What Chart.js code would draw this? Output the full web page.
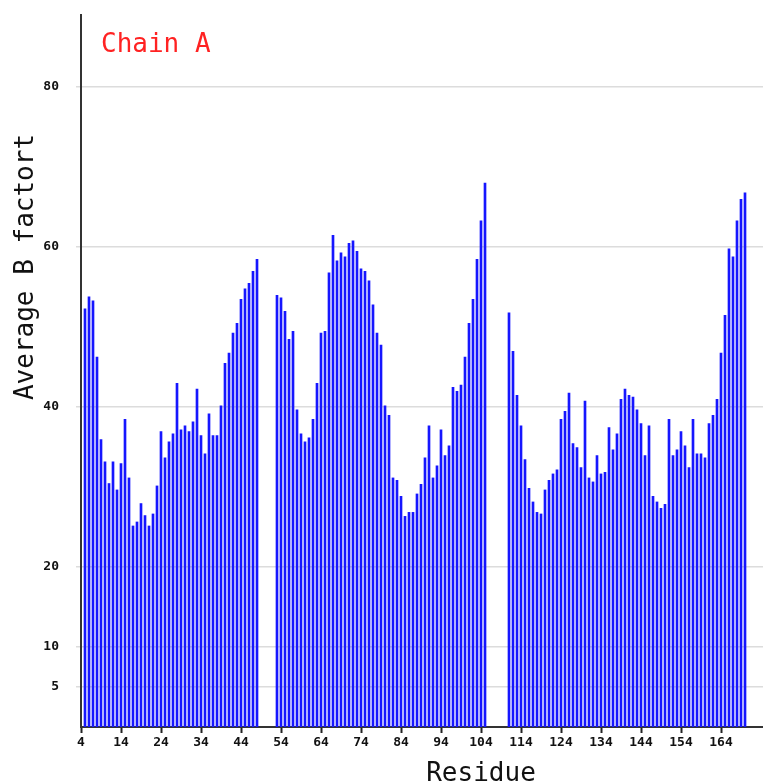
<!DOCTYPE html>
<html>
<head>
<meta charset="utf-8">
<script src="https://cdn.jsdelivr.net/npm/chart.js@4/dist/chart.umd.min.js"></script>
<style>
  html, body { margin: 0; padding: 0; background: #fff; }
  canvas { display: block; }
</style>
</head>
<body>
<canvas id="bChart" width="763" height="783"></canvas>
<script>
// Average B factor per residue, chain A (null = residue missing)
const firstResidue = 5
const bFactors = [
    52.2, 53.7, 53.2, 46.2, 35.9, 33.1, 30.4, 33.1, 29.6, 32.9,
    38.4, 31.1, 25.1, 25.6, 27.9, 26.4, 25.1, 26.6, 30.1, 36.9,
    33.6, 35.6, 36.6, 42.9, 37.1, 37.6, 36.9, 38.1, 42.2, 36.4,
    34.1, 39.1, 36.4, 36.4, 40.1, 45.4, 46.7, 49.2, 50.4, 53.4,
    54.7, 55.4, 56.9, 58.4, null, null, null, null, 53.9, 53.6,
    51.9, 48.4, 49.4, 39.6, 36.6, 35.6, 36.1, 38.4, 42.9, 49.2,
    49.4, 56.7, 61.4, 58.2, 59.2, 58.7, 60.4, 60.7, 59.4, 57.2,
    56.9, 55.7, 52.7, 49.2, 47.7, 40.1, 38.9, 31.1, 30.8, 28.8,
    26.3, 26.8, 26.8, 29.1, 30.3, 33.6, 37.6, 31.1, 32.6, 37.1,
    33.9, 35.1, 42.4, 41.9, 42.7, 46.2, 50.4, 53.4, 58.4, 63.2,
    67.9, null, null, null, null, null, 51.7, 46.9, 41.4, 37.6,
    33.4, 29.8, 28.1, 26.8, 26.6, 29.6, 30.8, 31.6, 32.1, 38.4,
    39.4, 41.7, 35.4, 34.9, 32.4, 40.7, 31.1, 30.6, 33.9, 31.6,
    31.8, 37.4, 34.6, 36.6, 40.9, 42.2, 41.4, 41.2, 39.6, 37.9,
    33.9, 37.6, 28.8, 28.1, 27.3, 27.8, 38.4, 33.9, 34.6, 36.9,
    35.1, 32.4, 38.4, 34.1, 34.1, 33.6, 37.9, 38.9, 40.9, 46.7,
    51.4, 59.7, 58.7, 63.2, 65.9, 66.7
]
const xTickValues = [4, 14, 24, 34, 44, 54, 64, 74, 84, 94, 104, 114, 124, 134, 144, 154, 164]
const yTickValues = [5, 10, 20, 40, 60, 80]
const chainLabel = "Chain A"
const xTitle = "Residue"
const yTitle = "Average B factort"

let points = []
bFactors.forEach((b, i) => {
    if (b !== null) points.push({ x: firstResidue + i, y: b })
})

const tickFont = { family: 'DejaVu Sans Mono', size: 13, weight: 'bold' }

// titles are placed where the original image has them, not centred on the axes
const titlesPlugin = {
    id: 'titles',
    afterDraw(chart) {
        const ctx = chart.ctx
        ctx.save()
        ctx.font = '26px "DejaVu Sans Mono"'
        ctx.textBaseline = 'alphabetic'
        ctx.textAlign = 'left'
        ctx.fillStyle = '#ff2222'
        ctx.fillText(chainLabel, 101, 52)
        ctx.fillStyle = '#111'
        ctx.textAlign = 'center'
        ctx.fillText(xTitle, 481, 781)
        ctx.translate(33, 267)
        ctx.rotate(-Math.PI / 2)
        ctx.fillText(yTitle, 0, 0)
        ctx.restore()
    }
}

new Chart(document.querySelector("#bChart"), {
    type: 'bar',
    data: {
        datasets: [{
            data: points,
            backgroundColor: '#1616ff',
            borderWidth: 0,
            barThickness: 2
        }]
    },
    options: {
        responsive: false,
        animation: false,
        devicePixelRatio: 1,
        layout: { padding: { top: 15, left: 0, right: 0, bottom: 0 } },
        plugins: {
            legend: { display: false },
            tooltip: { enabled: false }
        },
        scales: {
            x: {
                type: 'linear',
                min: 4,
                max: 174.5,
                offset: false,
                afterBuildTicks: scale => { scale.ticks = xTickValues.map(v => ({ value: v })) },
                afterFit: scale => {
                    scale.height = 56
                    scale.paddingLeft = 0
                    scale.paddingRight = 0
                },
                grid: { offset: false, drawOnChartArea: false, tickLength: 6, tickColor: '#222', tickWidth: 2 },
                border: { color: '#333', width: 2 },
                ticks: { color: '#111', font: tickFont, padding: 2, maxRotation: 0, autoSkip: false }
            },
            y: {
                min: 0,
                max: 88.9,
                afterBuildTicks: scale => { scale.ticks = yTickValues.map(v => ({ value: v })) },
                afterFit: scale => {
                    scale.width = 81
                    scale.paddingTop = 0
                    scale.paddingBottom = 0
                },
                grid: { color: '#dcdcdc', tickLength: 5, lineWidth: 1.5 },
                border: { color: '#333', width: 2 },
                ticks: { color: '#111', font: tickFont, padding: 17 }
            }
        }
    },
    plugins: [titlesPlugin]
})
</script>
</body>
</html>
